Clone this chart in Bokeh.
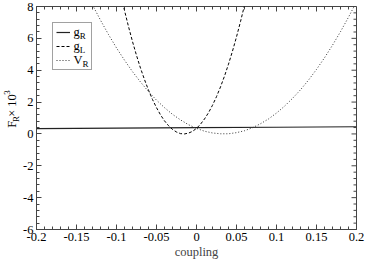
import math
from bokeh.plotting import figure
from bokeh.layouts import row
from bokeh.core.properties import value
from bokeh.models import (SingleIntervalTicker, CustomJSTickFormatter,
                          Range1d, Legend, LegendItem, Label)
from bokeh.embed import file_html
from bokeh.resources import INLINE

# ---- data ----
x_ticks = [-0.2, -0.15, -0.1, -0.05, 0.0, 0.05, 0.1, 0.15, 0.2]
x_tick_labels = ["-0.2", "-0.15", "-0.1", "-0.05", "0", "0.05", "0.1", "0.15", "0.2"]
y_ticks = [-6, -4, -2, 0, 2, 4, 6, 8]
y_tick_labels = ["-6", "-4", "-2", "0", "2", "4", "6", "8"]

gR_x = [-0.2, -0.1, 0.0, 0.1, 0.2]
gR_y = [0.33, 0.36, 0.39, 0.42, 0.45]

gL_x = [-0.095, -0.09, -0.085, -0.08, -0.075, -0.07, -0.065, -0.06, -0.055, -0.05,
        -0.045, -0.04, -0.035, -0.03, -0.025, -0.02, -0.015, -0.01, -0.005, 0.0,
        0.005, 0.01, 0.015, 0.02, 0.025, 0.03, 0.035, 0.04, 0.045, 0.05, 0.055,
        0.06, 0.065]
gL_y = [8.83, 7.75, 6.74, 5.80, 4.93, 4.13, 3.41, 2.75, 2.16, 1.65,
        1.20, 0.82, 0.52, 0.28, 0.12, 0.02, 0.00, 0.05, 0.16, 0.35,
        0.61, 0.94, 1.33, 1.80, 2.34, 2.95, 3.63, 4.38, 5.20, 6.09, 7.05,
        8.08, 9.19]

VR_x = [-0.13, -0.12, -0.11, -0.10, -0.09, -0.08, -0.07, -0.06, -0.05, -0.04,
        -0.03, -0.02, -0.01, 0.0, 0.01, 0.02, 0.03, 0.04, 0.05, 0.06, 0.07,
        0.08, 0.09, 0.10, 0.11, 0.12, 0.13, 0.14, 0.15, 0.16, 0.17, 0.18,
        0.19, 0.20]
VR_y = [8.10, 7.14, 6.24, 5.40, 4.63, 3.91, 3.26, 2.66, 2.12, 1.65,
        1.23, 0.88, 0.58, 0.35, 0.17, 0.06, 0.01, 0.01, 0.08, 0.20, 0.39,
        0.64, 0.94, 1.31, 1.74, 2.23, 2.77, 3.38, 4.05, 4.78, 5.57, 6.42,
        7.33, 8.29]

legend_main = ["g", "g", "V"]
legend_sub = ["R", "L", "R"]
ylabel_main = ["F", " \u00d7 10"]
ylabel_small = ["R", "3"]

FONT = "Liberation Serif"
FS = "12.5px"
SUB = "9px"
AX = "#444444"
X0, X1 = x_ticks[0], x_ticks[-1]
Y0, Y1 = y_ticks[0], y_ticks[-1]
W, H = 365, 262
LW = 20  # width of the strip holding the rotated y title

p = figure(width=W - LW, height=H,
           x_range=Range1d(X0, X1), y_range=Range1d(Y0, Y1),
           output_backend="svg", toolbar_location=None,
           min_border_left=35 - LW, min_border_right=9, min_border_top=6,
           min_border_bottom=33, x_axis_label="coupling")
p.xgrid.visible = False
p.ygrid.visible = False
p.outline_line_color = AX
p.outline_line_width = 1
p.background_fill_color = "white"
p.border_fill_color = "white"

fmt_code = """
let best = 0;
for (let i = 0; i < ticks_.length; i++) {
  if (Math.abs(ticks_[i] - tick) < Math.abs(ticks_[best] - tick)) best = i;
}
return labels[best];
"""
xfmt = CustomJSTickFormatter(args=dict(ticks_=x_ticks, labels=x_tick_labels), code=fmt_code)
yfmt = CustomJSTickFormatter(args=dict(ticks_=y_ticks, labels=y_tick_labels), code=fmt_code)


def style_axis(ax, ticker, fmt):
    ax.ticker = ticker
    ax.formatter = fmt
    ax.axis_line_color = AX
    ax.major_tick_line_color = AX
    ax.minor_tick_line_color = AX
    ax.major_tick_in = 5
    ax.major_tick_out = 0
    ax.minor_tick_in = 3
    ax.minor_tick_out = 0
    ax.major_label_text_font = FONT
    ax.major_label_text_color = "black"
    ax.major_label_text_font_size = FS
    ax.major_label_standoff = 3


style_axis(p.xaxis[0], SingleIntervalTicker(interval=0.05, num_minor_ticks=5), xfmt)
style_axis(p.yaxis[0], SingleIntervalTicker(interval=2, num_minor_ticks=5), yfmt)
p.xaxis[0].axis_label_text_font = FONT
p.xaxis[0].axis_label_text_font_style = "normal"
p.xaxis[0].axis_label_text_font_size = FS
p.xaxis[0].axis_label_standoff = 1

# mirrored ticks on the top and right edges (from the tick arrays)
def with_minor(ticks):
    out = []
    for a, b in zip(ticks[:-1], ticks[1:]):
        out += [a + k * (b - a) / 5 for k in range(1, 5)]
    return out

p.ray(x=x_ticks, y=[Y1] * len(x_ticks), length=5, length_units="screen",
      angle=-math.pi / 2, line_color=AX, line_width=1)
mx = with_minor(x_ticks)
p.ray(x=mx, y=[Y1] * len(mx), length=3, length_units="screen",
      angle=-math.pi / 2, line_color=AX, line_width=1)
p.ray(x=[X1] * len(y_ticks), y=y_ticks, length=5, length_units="screen",
      angle=math.pi, line_color=AX, line_width=1)
my = with_minor(y_ticks)
p.ray(x=[X1] * len(my), y=my, length=3, length_units="screen",
      angle=math.pi, line_color=AX, line_width=1)

rR = p.line(gR_x, gR_y, line_color="#222222", line_width=1.2)
rL = p.line(gL_x, gL_y, line_color="black", line_width=1, line_dash="3 2")
rV = p.line(VR_x, VR_y, line_color="#333333", line_width=1, line_dash="1 2")

# legend (symbols from Bokeh, texts with subscripts added as labels)
LM, LP, GW, LS = 16, 3, 14, 4
legend = Legend(items=[LegendItem(label=" ", renderers=[rR]),
                       LegendItem(label=" ", renderers=[rL]),
                       LegendItem(label=" ", renderers=[rV])],
                location="top_left", margin=LM, padding=LP, spacing=2,
                glyph_width=GW, glyph_height=12, label_height=12, label_width=14,
                label_standoff=LS, label_text_font_size="2px",
                border_line_color=AX, border_line_width=1,
                background_fill_alpha=0)
p.add_layout(legend)

leg_x_off = LM + LP + GW + LS
main_w = {"g": 6.3, "V": 9.0}
for i, (m, s) in enumerate(zip(legend_main, legend_sub)):
    yoff = -(LM + LP + 6 + i * 14)
    p.add_layout(Label(x=X0, y=Y1, x_offset=leg_x_off, y_offset=yoff, text=m,
                       text_font=FONT, text_font_size=FS, text_baseline="middle",
                       text_align="left", text_color="black", level="overlay"))
    p.add_layout(Label(x=X0, y=Y1, x_offset=leg_x_off + main_w[m], y_offset=yoff - 4,
                       text=s, text_font=FONT, text_font_size=SUB,
                       text_baseline="middle", text_align="left", text_color="black",
                       level="overlay"))

# narrow strip on the left holding the rotated y title  F_R x 10^3
t = figure(width=LW, height=H, x_range=Range1d(0, LW), y_range=Range1d(0, H),
           output_backend="svg", toolbar_location=None,
           x_axis_type=None, y_axis_type=None,
           min_border_left=0, min_border_right=0, min_border_top=0, min_border_bottom=0)
t.outline_line_color = None
t.xgrid.visible = False
t.ygrid.visible = False
t.background_fill_color = "white"
t.border_fill_color = "white"
yc = H - (6 + (H - 6 - 33) / 2)   # vertical centre of the main frame
start = yc - 25
t.text(x=[11, 11], y=[start, start + 12.9], text=ylabel_main, angle=math.pi / 2,
       text_font=value(FONT), text_font_size=FS, text_baseline="middle",
       text_align="left", text_color="black")
t.text(x=[15, 6.5], y=[start + 6.9, start + 38.7], text=ylabel_small, angle=math.pi / 2,
       text_font=value(FONT), text_font_size=SUB, text_baseline="middle",
       text_align="left", text_color="black")

layout = row(t, p)
open("out.html", "w").write(file_html(layout, INLINE))
